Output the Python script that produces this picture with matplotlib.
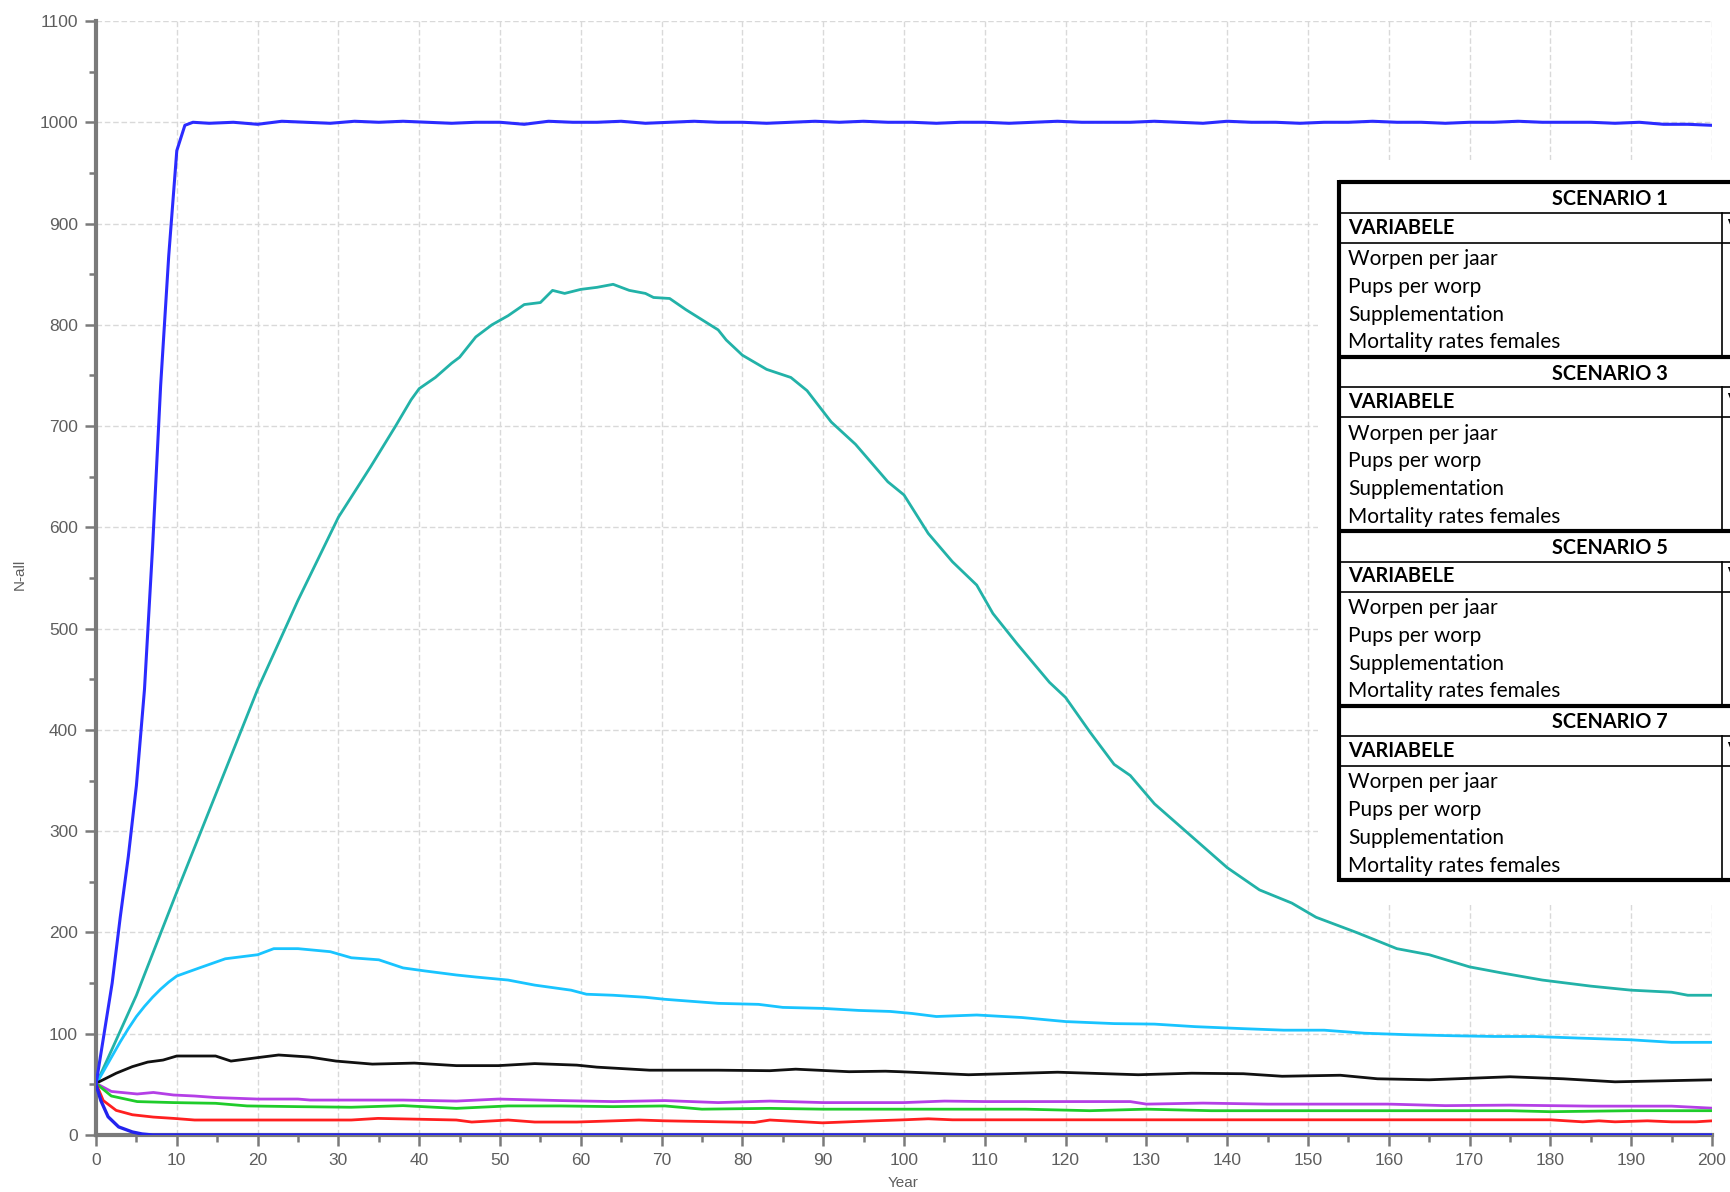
import matplotlib
matplotlib.use("Agg")
import matplotlib.pyplot as plt
from matplotlib.lines import Line2D
from matplotlib.patches import Rectangle

W, H = 1731, 1192

# ---------------- data ----------------
yrs_top = [0, 1, 2, 3, 4, 5, 6, 7, 8, 9, 10, 11, 12, 14, 17, 20, 23, 26, 29, 32, 35, 38, 41, 44, 47,
           50, 53, 56, 59, 62, 65, 68, 71, 74, 77, 80, 83, 86, 89, 92, 95, 98, 101, 104, 107,
           110, 113, 116, 119, 122, 125, 128, 131, 134, 137, 140, 143, 146, 149, 152, 155, 158,
           161, 164, 167, 170, 173, 176, 179, 182, 185, 188, 191, 194, 197, 200]
val_top = [50, 100, 150, 215, 275, 345, 440, 580, 740, 868, 972, 997, 1000, 999, 1000, 998, 1001, 1000,
           999, 1001, 1000, 1001, 1000, 999, 1000, 1000, 998, 1001, 1000, 1000, 1001, 999, 1000,
           1001, 1000, 1000, 999, 1000, 1001, 1000, 1001, 1000, 1000, 999, 1000, 1000, 999, 1000,
           1001, 1000, 1000, 1000, 1001, 1000, 999, 1001, 1000, 1000, 999, 1000, 1000, 1001, 1000,
           1000, 999, 1000, 1000, 1001, 1000, 1000, 1000, 999, 1000, 998, 998, 997]

yrs_teal = [0, 2, 5, 10, 15, 20, 25, 30, 34, 37, 39, 40, 42, 44, 45, 47, 49, 51, 53, 55, 56.5, 58, 60,
            62, 64, 66, 68, 69, 71, 73, 75, 77, 78, 80, 83, 86, 88, 91, 94, 98, 100, 103, 106, 109,
            111, 114, 118, 120, 123, 126, 128, 131, 135, 140, 144, 148, 151, 156, 161, 165, 170,
            174, 179, 185, 190, 195, 197, 200]
val_teal = [50, 85, 138, 240, 340, 440, 528, 610, 660, 699, 726, 737, 748, 762, 768, 788, 800, 809,
            820, 822, 834, 831, 835, 837, 840, 834, 831, 827, 826, 815, 805, 795, 785, 770, 756,
            748, 735, 704, 682, 645, 632, 594, 566, 543, 515, 485, 447, 432, 398, 366, 355, 327,
            299, 264, 242, 229, 215, 200, 184, 178, 166, 160, 153, 147, 143, 141, 138, 138]

yrs_sky = [0, 1, 2, 3, 4, 5, 6, 7, 8, 9, 10, 12.8, 16, 20, 22, 25, 29, 31.6, 35, 38, 40.7, 44.6, 47,
           51, 54.3, 58.8, 60.7, 64, 68, 70.4, 77, 82, 85, 90, 94.4, 98.3, 101, 104, 109, 114.6,
           120, 126, 131, 136, 142, 147, 152, 157, 162.5, 168, 173, 178, 183.5, 190, 195, 200]
val_sky = [50, 64, 78, 92, 105, 117, 127, 136, 144, 151, 157, 165, 174, 178, 184, 184, 181, 175, 173,
           165, 162, 158, 156, 153, 148, 143, 139, 138, 136, 134, 130, 129, 126, 125, 123, 122,
           120, 117, 118.5, 116, 112, 110, 109.5, 107, 105, 103.5, 103.5, 100.5, 99, 98, 97.3,
           97.3, 95.7, 94, 91.5, 91.5]

yrs_black = [0, 2.5, 4.5, 6.4, 8.3, 10, 14.8, 16.7, 20.6, 22.6, 26.4, 29.7, 34.2, 39.4, 44.6, 49.8,
             54.3, 59.5, 62, 68.5, 77, 83.4, 86.6, 93.2, 97.7, 99.5, 108, 119, 129, 135.6, 142,
             146.8, 154, 158.6, 165, 175, 181.6, 188, 200]
val_black = [51, 61, 67.5, 72, 74, 78, 78, 73, 77, 79, 77, 73, 70, 71, 68.5, 68.5, 70.5, 69, 67, 64,
             64, 63.5, 65, 62.5, 63, 62.5, 59.5, 62, 59.5, 61, 60.5, 58, 59, 55.5, 54.5, 57.5,
             55.5, 52.5, 54.5]

yrs_purple = [0, 1.9, 5.1, 7.1, 9.6, 12.2, 14.8, 20, 25, 26.5, 38, 44.6, 49.8, 57.5, 64, 70.4, 77,
              83.4, 90, 100, 105, 110, 128, 130, 137, 145, 160, 167, 175, 185, 195, 200]
val_purple = [51, 43, 40.5, 42, 39.5, 38.5, 37, 35.5, 35.5, 34.5, 34.5, 33.5, 35.5, 34, 33, 34, 32,
              33.5, 32, 32, 33.5, 33, 33, 30.5, 31.5, 30.5, 30.5, 29, 29.5, 28.5, 28.5, 26.5]

yrs_green = [0, 1.9, 5.1, 9.6, 14.8, 18.7, 25, 31.6, 38, 44.6, 51, 57.5, 64, 70.4, 75, 83.4, 90,
             100, 115, 123, 130, 138, 150, 163, 175, 180, 190, 200]
val_green = [51, 38.5, 33, 32, 31.3, 28.7, 28, 27.4, 29, 26.3, 28.7, 28.7, 28, 28.7, 25.5, 26.3,
             25.5, 25.5, 25.5, 24, 25.5, 24, 24, 24, 24, 23, 24, 24]

yrs_red = [0, 0.9, 2.5, 4.5, 7.1, 9.6, 12.2, 31.6, 34.9, 44.6, 46.5, 51, 54.3, 59.5, 67.2, 70.4,
           81.5, 83.4, 89.9, 96.3, 100, 103, 106, 150, 180, 184, 186, 188, 192, 195, 198, 200]
val_red = [51, 34, 24.3, 20, 17.7, 16.4, 14.8, 14.8, 16.4, 14.8, 12.8, 14.8, 12.8, 12.8, 14.8, 14,
           12.4, 14.8, 12, 14, 15, 16, 15, 15, 15, 13, 14, 13, 14, 13, 13, 14]

yrs_extinct = [0, 0.6, 1.5, 2.8, 4.5, 5.7, 7, 200]
val_extinct = [50, 34, 18, 8, 3, 1, 0, 0]

x_ticks = list(range(0, 201, 10))
y_ticks = list(range(0, 1101, 100))

scen_titles = ["SCENARIO 1", "SCENARIO 3", "SCENARIO 5", "SCENARIO 7"]
row_labels = ["Worpen per jaar", "Pups per worp", "Supplementation", "Mortality rates females"]
header_label = "VARIABELE"

# ---------------- figure ----------------
fig = plt.figure(figsize=(W / 100, H / 100), dpi=100)
fig.patch.set_facecolor("white")

x0, x1 = 96, 1712
y0, y1 = 1135, 21
ax = fig.add_axes([x0 / W, 1 - y0 / H, (x1 - x0) / W, (y0 - y1) / H])
ax.set_xlim(0, 200)
ax.set_ylim(0, 1100)

series = [
    (yrs_teal, val_teal, "#22b2a8", 2.0),
    (yrs_sky, val_sky, "#19c4ff", 2.0),
    (yrs_black, val_black, "#111111", 2.0),
    (yrs_purple, val_purple, "#b43fe6", 2.0),
    (yrs_green, val_green, "#1fcc2a", 2.0),
    (yrs_red, val_red, "#ff1f1f", 2.0),
    (yrs_extinct, val_extinct, "#2323ee", 2.4),
    (yrs_top, val_top, "#2b2bff", 2.2),
]
for xs, ys, c, lw in series:
    ax.plot(xs, ys, color=c, lw=lw, solid_joinstyle="round", zorder=3)

for s in ["top", "right"]:
    ax.spines[s].set_visible(False)
for s in ["left", "bottom"]:
    ax.spines[s].set_color("#7a7a7a")
    ax.spines[s].set_linewidth(3)

ax.set_xticks(x_ticks)
ax.set_xticks(list(range(5, 200, 10)), minor=True)
ax.set_yticks(y_ticks)
ax.set_yticks(list(range(50, 1100, 100)), minor=True)
ax.tick_params(which="major", direction="out", length=8, width=1.8, color="#7a7a7a",
               labelsize=12.5, labelcolor="#5e5e5e", pad=5)
ax.tick_params(which="minor", direction="out", length=5, width=1.8, color="#7a7a7a")
for lab in ax.get_xticklabels() + ax.get_yticklabels():
    lab.set_family(["Liberation Sans", "DejaVu Sans"])

ax.set_axisbelow(True)
ax.grid(True, which="major", color="#d9d9d9", lw=1.0, ls=(0, (4, 2)))

fig.text(20 / W, 1 - 574 / H, "N-all", rotation=90, ha="center", va="center",
         fontsize=11, color="#5e5e5e", family=["Liberation Sans", "DejaVu Sans"])
fig.text(903 / W, 1 - 1183 / H, "Year", ha="center", va="center",
         fontsize=11, color="#5e5e5e", family=["Liberation Sans", "DejaVu Sans"])

# ---------------- table overlay ----------------
def fx(px):
    return px / W


def fy(py):
    return 1 - py / H


# white backdrop hiding the grid around the table
fig.patches.append(Rectangle((fx(1318), fy(905)), fx(W - 1318) + 0.01, (905 - 160) / H,
                             transform=fig.transFigure, facecolor="white", edgecolor="none",
                             zorder=5))

tfont = ["Lato", "DejaVu Sans"]
tleft, tright = 1339, 1740
top0 = 182
pitch = 174.5
vline_x = 1722


def hline(py, lw):
    fig.add_artist(Line2D([fx(tleft), fx(tright)], [fy(py), fy(py)], color="black", lw=lw,
                          transform=fig.transFigure, zorder=7, solid_capstyle="butt"))


for b, title in enumerate(scen_titles):
    bt = top0 + b * pitch
    hline(bt, 3.0)
    fig.text(fx(1610), fy(bt + 17), title, ha="center", va="center", fontsize=14.3,
             fontweight="bold", family=tfont, zorder=8)
    hline(bt + 30.5, 1.2)
    fig.text(fx(1348), fy(bt + 45.5), header_label, ha="left", va="center", fontsize=14.3,
             fontweight="bold", family=tfont, zorder=8)
    fig.text(fx(1727), fy(bt + 45.5), "V", ha="left", va="center", fontsize=14.3,
             fontweight="bold", family=tfont, zorder=8, clip_on=False)
    hline(bt + 60.5, 1.2)
    for i, lab in enumerate(row_labels):
        fig.text(fx(1348), fy(bt + 77 + i * 27.8), lab, ha="left", va="center", fontsize=15,
                 family=tfont, zorder=8)
    fig.add_artist(Line2D([fx(vline_x), fx(vline_x)], [fy(bt + 30.5), fy(bt + pitch)],
                          color="black", lw=1.2, transform=fig.transFigure, zorder=7))
hline(top0 + 4 * pitch, 3.0)
fig.add_artist(Line2D([fx(tleft), fx(tleft)], [fy(top0 - 2), fy(top0 + 4 * pitch + 2)],
                      color="black", lw=3.0, transform=fig.transFigure, zorder=7,
                      solid_capstyle="butt"))

fig.savefig("out.png", dpi=100, facecolor="white")
